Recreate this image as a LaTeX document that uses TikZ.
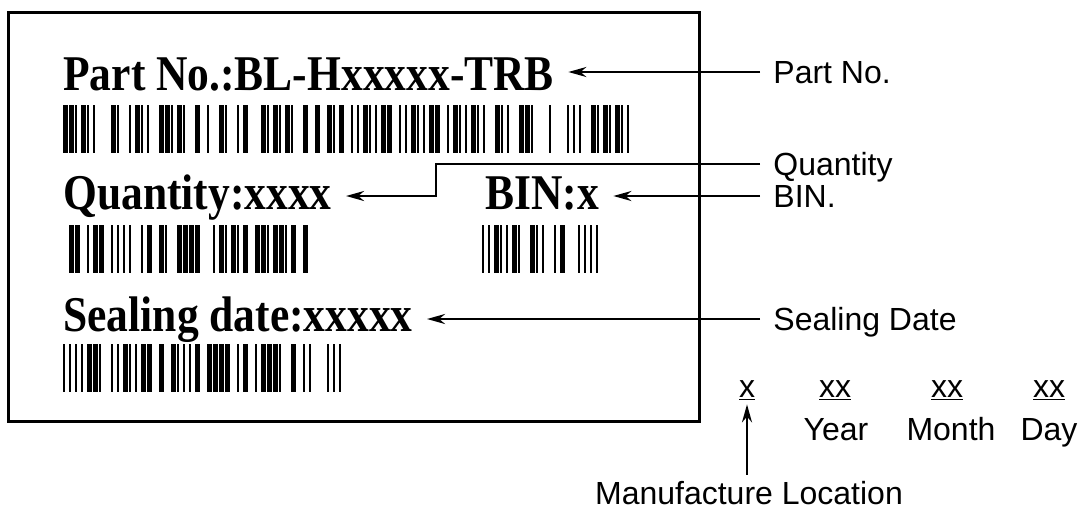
\documentclass[tikz,border=0pt]{standalone}
\usepackage{fontspec}
\setmainfont{Liberation Sans}
\newfontfamily\tagfont[FakeStretch=0.87]{Liberation Serif}
\usetikzlibrary{arrows.meta,calc}

% one row of bars: left, top, right, bottom, seed
\newcommand\barcode[5]{%
  \pgfmathsetseed{#5}%
  \pgfmathtruncatemacro\nbar{(#3-#1)/6}%
  \foreach \i in {0,...,\nbar}{%
    \pgfmathrandominteger{\bw}{0}{6}%
    \pgfmathsetmacro\bx{#1+\i*6}%
    \pgfmathtruncatemacro\gap{mod(\i,8)==7}%
    \ifnum\gap=0
      \ifnum\bw=0\else
        \ifnum\bw<4 \fill (\bx,#2) rectangle (\bx+2.2,#4);%
        \else \fill (\bx,#2) rectangle (\bx+4.6,#4);\fi
      \fi
    \fi
  }}

\begin{document}
\begin{tikzpicture}[x=0.5pt,y=-0.5pt,>={Stealth[length=9pt,width=5pt]},
 tag/.style={anchor=base west,font=\tagfont\bfseries\fontsize{25}{30}\selectfont,text height=16.5pt,text depth=0pt,inner xsep=7pt,inner ysep=0pt},
 lbl/.style={anchor=west,font=\fontsize{16}{19}\selectfont,text height=11.5pt,text depth=0pt,inner xsep=6.5pt,inner ysep=0pt},
 word/.style={font=\fontsize{16}{19}\selectfont,inner sep=1.5pt},
 conn/.style={->,line width=1.2pt}]
\useasboundingbox (0,0) rectangle (1082,509);
\draw[line width=1.5pt] (8,12) rectangle (699,421);
% label texts
\node[tag](partno)at(49,90){Part No.:BL-Hxxxxx-TRB};
\node[tag](qty)at(49,209){Quantity:xxxx};
\node[tag](bin)at(471,209){BIN:x};
\node[tag](date)at(49,331){Sealing date:xxxxx};
\barcode{63}{105}{630}{153}{3}
\barcode{63}{225}{305}{273}{7}
\barcode{482}{225}{600}{273}{11}
\barcode{63}{344}{347}{392}{5}
% callouts
\node[lbl](partlbl)at(760,72){Part No.};
\node[lbl](qtylbl)at(760,164){Quantity};
\node[lbl](binlbl)at(760,196){BIN.};
\node[lbl](datelbl)at(760,319){Sealing Date};
\coordinate(qbend)at(436,164);
\draw[conn](partlbl.west)--(partlbl.west-|partno.east);
\draw[conn](qtylbl.west)--(qbend)|-(qty.east|-binlbl.west);
\draw[conn](binlbl.west)--(binlbl.west-|bin.east);
\draw[conn](datelbl.west)--(datelbl.west-|date.east);
% date code
\node[word,anchor=base](locx)at(747,397){\underline{x}};
\node[word,anchor=base](yy)at(835,397){\underline{xx}};
\node[word,anchor=base](mm)at(947,397){\underline{xx}};
\node[word,anchor=base](dd)at(1049,397){\underline{xx}};
\node[word,anchor=base](year)at(836,440){Year};
\node[word,anchor=base](month)at(951,440){Month};
\node[word,anchor=base](day)at(1049,440){Day};
\node[word,inner sep=3pt](mfg)at(749,493){Manufacture Location};
\draw[conn](locx.south|-mfg.north)--(locx.south);
\end{tikzpicture}
\end{document}
